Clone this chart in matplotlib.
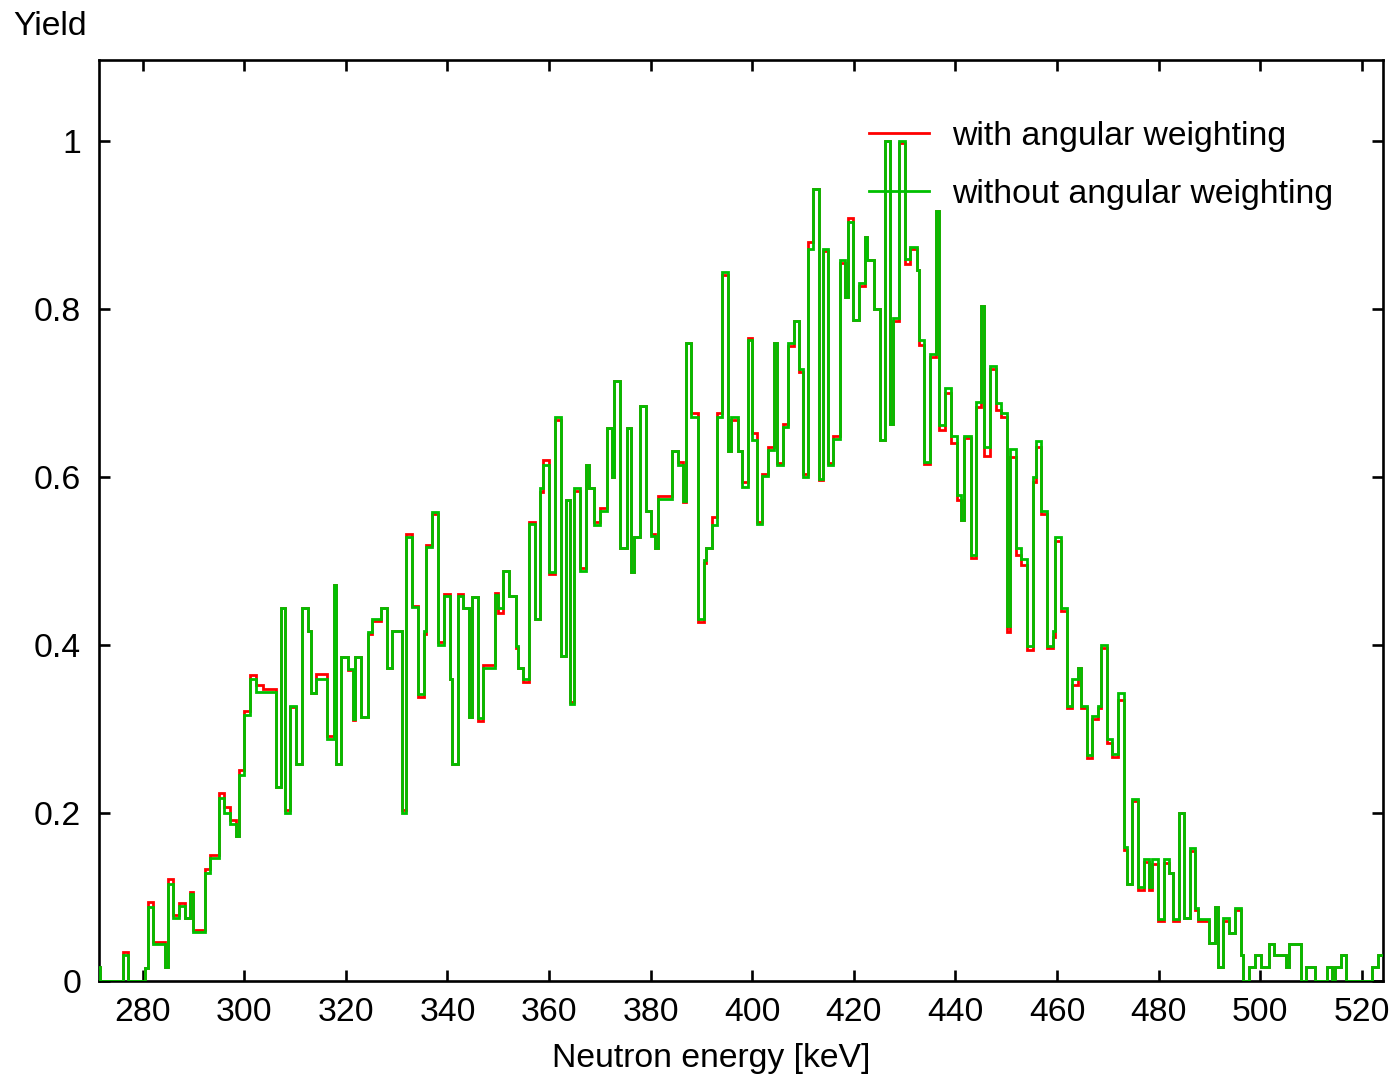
import matplotlib
matplotlib.use("Agg")
import matplotlib.pyplot as plt
from matplotlib.lines import Line2D

# bin edges (keV) of the step histogram
edges = [270.0, 271.5, 276.06, 277.17, 280.51, 280.98, 282.09, 284.39, 284.92, 286.02,
         287.15, 288.33, 289.31, 290.0, 292.26, 293.24, 295.08, 296.07, 297.18, 298.31,
         298.96, 300.0, 301.1, 302.4, 303.62, 306.24, 307.22, 308.0, 309.06, 310.12,
         311.3, 312.48, 313.07, 314.06, 316.34, 317.59, 317.99, 319.1, 320.35, 321.33,
         321.85, 323.0, 324.29, 325.2, 326.9, 328.08, 329.13, 330.98, 331.9, 333.08,
         334.26, 335.44, 335.77, 337.0, 338.2, 339.25, 340.5, 340.96, 342.14, 343.12,
         344.23, 344.88, 346.06, 347.04, 349.35, 349.87, 351.0, 352.14, 353.39, 353.8,
         354.9, 356.07, 357.2, 358.24, 358.9, 360.0, 361.16, 362.33, 363.4, 364.02,
         364.96, 366.14, 367.32, 367.91, 368.9, 370.1, 371.34, 372.33, 372.85, 374.0,
         375.28, 376.13, 376.79, 377.9, 379.08, 380.07, 380.92, 381.51, 384.13, 385.3,
         386.42, 386.88, 387.92, 389.23, 390.41, 390.8, 391.98, 393.03, 394.08, 395.26,
         395.85, 397.1, 397.88, 399.2, 399.85, 400.98, 401.96, 403.15, 404.33, 404.85,
         405.97, 407.08, 408.27, 409.25, 409.9, 411.02, 412.0, 413.18, 413.84, 414.95,
         415.94, 417.18, 418.2, 418.8, 419.85, 421.0, 422.26, 422.65, 424.0, 425.13,
         426.06, 427.11, 427.77, 428.95, 430.07, 431.12, 432.37, 432.89, 433.87, 434.99,
         436.22, 436.81, 437.93, 439.11, 440.22, 441.08, 441.73, 443.05, 444.03, 445.08,
         445.67, 446.78, 447.9, 448.94, 450.19, 450.78, 451.91, 452.89, 454.13, 455.18,
         455.77, 456.89, 458.07, 459.18, 459.64, 460.86, 461.98, 462.96, 464.14, 464.73,
         465.91, 466.9, 468.08, 468.73, 469.78, 470.83, 472.01, 473.19, 473.71, 474.76,
         475.9, 477.11, 478.1, 478.76, 479.8, 481.1, 482.09, 482.75, 483.93, 484.91,
         486.16, 487.14, 487.8, 489.9, 491.14, 491.6, 492.71, 493.9, 495.0, 496.2,
         496.66, 497.84, 498.95, 500.07, 501.77, 502.76, 505.06, 505.71, 508.0, 509.05,
         510.82, 513.05, 514.04, 514.63, 515.88, 516.86, 521.98, 523.1, 525.0]

# yield without angular weighting (green)
yield_without = [0.017, 0, 0.031, 0, 0.016, 0.088, 0.044, 0.017, 0.115, 0.075,
                 0.089, 0.075, 0.104, 0.058, 0.129, 0.147, 0.2175, 0.200, 0.1865, 0.1726,
                 0.245, 0.3167, 0.360, 0.3437, 0.3437, 0.2313, 0.4437, 0.1996, 0.3278, 0.2583,
                 0.4437, 0.417, 0.3425, 0.360, 0.288, 0.4714, 0.2583, 0.386, 0.372, 0.312,
                 0.386, 0.3147, 0.4159, 0.4306, 0.4437, 0.3722, 0.4163, 0.2004, 0.529, 0.4448,
                 0.3417, 0.4163, 0.5163, 0.5587, 0.400, 0.4587, 0.359, 0.2583, 0.4587, 0.4437,
                 0.3147, 0.4575, 0.3135, 0.3722, 0.4595, 0.4437, 0.488, 0.4583, 0.399, 0.3726,
                 0.359, 0.5437, 0.4313, 0.5865, 0.6143, 0.4873, 0.671, 0.3873, 0.5726, 0.3294,
                 0.5865, 0.4885, 0.6143, 0.5865, 0.543, 0.560, 0.658, 0.5996, 0.7147, 0.515,
                 0.658, 0.4873, 0.529, 0.6845, 0.559, 0.530, 0.515, 0.5734, 0.631, 0.614,
                 0.5718, 0.759, 0.672, 0.4306, 0.501, 0.515, 0.5425, 0.672, 0.8437, 0.631,
                 0.671, 0.631, 0.5877, 0.763, 0.644, 0.5437, 0.6016, 0.632, 0.759, 0.6147,
                 0.659, 0.759, 0.786, 0.728, 0.6004, 0.871, 0.9425, 0.598, 0.871, 0.6147,
                 0.645, 0.8583, 0.814, 0.904, 0.787, 0.8306, 0.886, 0.8583, 0.7996, 0.644,
                 1.0, 0.663, 0.789, 1.0, 0.8595, 0.8734, 0.8464, 0.763, 0.6183, 0.7464,
                 0.917, 0.662, 0.7063, 0.649, 0.579, 0.549, 0.649, 0.507, 0.6897, 0.803,
                 0.636, 0.732, 0.6885, 0.6758, 0.4226, 0.633, 0.515, 0.502, 0.399, 0.5996,
                 0.643, 0.559, 0.3988, 0.417, 0.528, 0.4437, 0.3274, 0.359, 0.3726, 0.3278,
                 0.269, 0.3155, 0.3278, 0.3996, 0.2877, 0.270, 0.3425, 0.159, 0.1155, 0.2167,
                 0.112, 0.1448, 0.112, 0.1448, 0.0734, 0.1448, 0.128, 0.0734, 0.1996, 0.0754,
                 0.1587, 0.0873, 0.0734, 0.0449, 0.0877, 0.0163, 0.0746, 0.0575, 0.0873, 0.031,
                 0, 0.0163, 0.031, 0.0163, 0.0437, 0.031, 0.0163, 0.0437, 0, 0.0163,
                 0, 0.0163, 0, 0.0163, 0.031, 0, 0.0163, 0.031]

# yield with angular weighting (red, mostly hidden under the green line)
yield_with = [0.017, 0, 0.034, 0, 0.016, 0.094, 0.047, 0.017, 0.122, 0.078,
              0.093, 0.075, 0.106, 0.061, 0.133, 0.150, 0.224, 0.207, 0.192, 0.1726,
              0.251, 0.321, 0.364, 0.352, 0.348, 0.2313, 0.4437, 0.204, 0.326, 0.2583,
              0.4437, 0.417, 0.3425, 0.365, 0.292, 0.4714, 0.2583, 0.386, 0.370, 0.311,
              0.386, 0.3147, 0.413, 0.428, 0.4437, 0.3722, 0.4163, 0.203, 0.532, 0.447,
              0.338, 0.413, 0.519, 0.556, 0.403, 0.461, 0.359, 0.2583, 0.461, 0.4437,
              0.3147, 0.4575, 0.310, 0.376, 0.462, 0.438, 0.488, 0.4583, 0.396, 0.3726,
              0.356, 0.547, 0.4313, 0.582, 0.620, 0.484, 0.668, 0.3873, 0.5726, 0.332,
              0.583, 0.492, 0.6143, 0.5865, 0.546, 0.563, 0.658, 0.5996, 0.7147, 0.515,
              0.658, 0.4873, 0.529, 0.6845, 0.559, 0.532, 0.515, 0.577, 0.631, 0.618,
              0.570, 0.759, 0.676, 0.427, 0.498, 0.515, 0.552, 0.676, 0.841, 0.631,
              0.668, 0.631, 0.594, 0.765, 0.652, 0.547, 0.604, 0.636, 0.759, 0.617,
              0.663, 0.756, 0.786, 0.725, 0.604, 0.88, 0.9425, 0.596, 0.869, 0.617,
              0.649, 0.855, 0.814, 0.908, 0.787, 0.827, 0.886, 0.8583, 0.7996, 0.644,
              1.0, 0.663, 0.786, 0.997, 0.853, 0.871, 0.8464, 0.757, 0.615, 0.743,
              0.917, 0.656, 0.700, 0.64, 0.573, 0.549, 0.646, 0.504, 0.683, 0.803,
              0.625, 0.729, 0.68, 0.672, 0.416, 0.624, 0.507, 0.495, 0.394, 0.594,
              0.636, 0.556, 0.396, 0.41, 0.524, 0.441, 0.325, 0.352, 0.3726, 0.325,
              0.266, 0.312, 0.325, 0.396, 0.283, 0.267, 0.335, 0.156, 0.1155, 0.214,
              0.108, 0.142, 0.108, 0.139, 0.071, 0.141, 0.128, 0.071, 0.1996, 0.0754,
              0.155, 0.084, 0.071, 0.0449, 0.0877, 0.0163, 0.071, 0.0575, 0.084, 0.031,
              0, 0.0163, 0.031, 0.0163, 0.0437, 0.031, 0.0163, 0.0437, 0, 0.0163,
              0, 0.0163, 0, 0.0163, 0.031, 0, 0.0163, 0.031]

xticks = [280, 300, 320, 340, 360, 380, 400, 420, 440, 460, 480, 500, 520]
yticks = [0, 0.2, 0.4, 0.6, 0.8, 1.0]
ytick_labels = ["0", "0.2", "0.4", "0.6", "0.8", "1"]
labels = ["with angular weighting", "without angular weighting"]

RED = "#ff0000"
GREEN = "#00c000"
LW = 2.0
FS = 24.3

plt.rcParams["font.family"] = ["Liberation Sans", "DejaVu Sans"]

W, H = 1389, 1074
fig = plt.figure(figsize=(W / 100, H / 100), dpi=100)
ax = fig.add_axes([99.3 / W, 1 - 981 / H, (1382.7 - 99.3) / W, (981 - 60) / H])

ax.stairs(yield_with, edges, baseline=None, color=RED, lw=LW, joinstyle="miter", zorder=2)
ax.stairs(yield_without, edges, baseline=None, color=GREEN, lw=LW, joinstyle="miter", zorder=3)

ax.set_xlim(271.46, 524.1)
ax.set_ylim(0, 1.0964)
ax.set_xticks(xticks)
ax.set_xticklabels([str(t) for t in xticks])
ax.set_yticks(yticks)
ax.set_yticklabels(ytick_labels)
ax.tick_params(direction="in", length=8, width=1.9, top=True, right=True,
               labelsize=FS, colors="black")
ax.tick_params(axis="x", pad=11.5)
ax.tick_params(axis="y", pad=13)
for s in ax.spines.values():
    s.set_linewidth(1.9)
    s.set_color("black")

handles = [Line2D([], [], color=RED, lw=LW), Line2D([], [], color=GREEN, lw=LW)]
ax.legend(handles, labels, loc="upper left", bbox_to_anchor=(0.5997, 0.9343),
          frameon=False, fontsize=FS, borderpad=0, borderaxespad=0,
          handlelength=1.78, handletextpad=0.67, labelspacing=0.8)

fig.text(13 / W, 1 - 35 / H, "Yield", fontsize=FS, ha="left", va="baseline")
fig.text(711.5 / W, 1 - 1067 / H, "Neutron energy [keV]", fontsize=FS,
         ha="center", va="baseline")

fig.savefig("out.png", dpi=100, facecolor="white")
